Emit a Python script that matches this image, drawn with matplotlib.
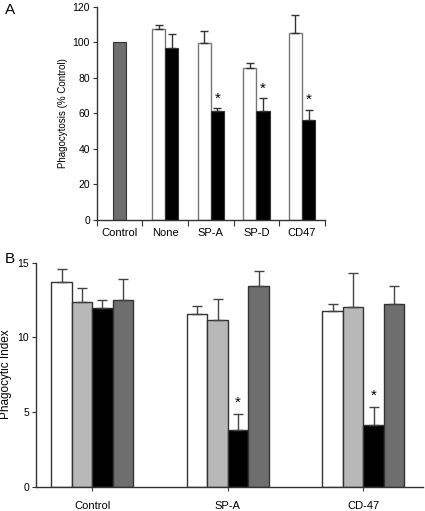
import matplotlib
matplotlib.use('Agg')
import matplotlib.pyplot as plt
import numpy as np

plt.rcParams['font.family'] = ['Liberation Sans', 'DejaVu Sans']

# ── Panel A data ─────────────────────────────────────────
a_categories = ['Control', 'None', 'SP-A', 'SP-D', 'CD47']
a_control = 100.0
a_white = [107.5, 99.4, 85.5, 105.4]
a_white_err = [2.2, 6.8, 2.7, 10.1]
a_black = [96.6, 61.5, 61.5, 56.3]
a_black_err = [7.9, 1.3, 7.0, 5.6]
a_star = [False, True, True, True]

# ── Panel B data ─────────────────────────────────────────
b_groups = ['Control', 'SP-A', 'CD-47']
b_values = [
    [13.73, 11.55, 11.77],   # white
    [12.39, 11.14, 12.02],   # light gray
    [11.95, 3.80, 4.13],     # black
    [12.53, 13.42, 12.22],   # dark gray
]
b_errors = [
    [0.87, 0.57, 0.49],
    [0.94, 1.41, 2.31],
    [0.58, 1.09, 1.21],
    [1.37, 1.01, 1.22],
]
b_star = [False, True, True]

WHITE = '#ffffff'
LIGHT = '#b8b8b8'
BLACK = '#000000'
DARK = '#6e6e6e'
EDGE = '#333333'
AXC = '#333333'

fig = plt.figure(figsize=(4.25, 5.11), dpi=100)


def style_axes(ax):
    ax.spines['top'].set_visible(False)
    ax.spines['right'].set_visible(False)
    for s in ('left', 'bottom'):
        ax.spines[s].set_color(AXC)
        ax.spines[s].set_linewidth(1.0)
    ax.tick_params(axis='y', direction='out', length=3, width=0.8,
                   color=AXC, labelsize=7.5, pad=2)


# ── Panel A ──────────────────────────────────────────────
axA = fig.add_axes([0.228, 0.5695, 0.536, 0.4175])
style_axes(axA)
w = 0.29
x = np.arange(len(a_categories))
axA.bar(x[0], a_control, w, color=DARK, edgecolor=EDGE, linewidth=0.8)
xs = x[1:]
axA.bar(xs - w / 2, a_white, w, color=WHITE, edgecolor='#777777', linewidth=1.0)
axA.bar(xs + w / 2, a_black, w, color=BLACK, edgecolor=EDGE, linewidth=0.8)
axA.errorbar(xs - w / 2, a_white, yerr=[np.zeros(4), a_white_err], fmt='none',
             ecolor=EDGE, elinewidth=1.0, capsize=3, capthick=1.0)
axA.errorbar(xs + w / 2, a_black, yerr=[np.zeros(4), a_black_err], fmt='none',
             ecolor=EDGE, elinewidth=1.0, capsize=3, capthick=1.0)
for xi, v, e, s in zip(xs, a_black, a_black_err, a_star):
    if s:
        axA.annotate('*', (xi + w / 2, v + e), xytext=(0, 2),
                     textcoords='offset points', ha='center', va='bottom',
                     fontsize=11)
axA.set_xlim(-0.5, len(a_categories) - 0.5)
axA.set_ylim(0, 120)
axA.set_yticks(np.arange(0, 121, 20))
axA.set_xticks(np.arange(-0.5, len(a_categories), 1.0))
axA.set_xticklabels([])
axA.set_xticks(x, minor=True)
axA.set_xticklabels(a_categories, minor=True)
axA.tick_params(axis='x', which='major', direction='out', length=4,
                width=0.8, color=AXC)
axA.tick_params(axis='x', which='minor', length=0, labelsize=8, pad=6)
axA.set_ylabel('Phagocytosis (% Control)', fontsize=7, labelpad=3)
fig.text(0.012, 0.995, 'A', fontsize=11, va='top', ha='left')

# ── Panel B ──────────────────────────────────────────────
axB = fig.add_axes([0.0847, 0.0476, 0.9106, 0.4384])
style_axes(axB)
bw = 0.151
gx = np.arange(len(b_groups))
colors = [WHITE, LIGHT, BLACK, DARK]
for i, (vals, errs, c) in enumerate(zip(b_values, b_errors, colors)):
    pos = gx + (i - 1.5) * bw
    axB.bar(pos, vals, bw, color=c, edgecolor=EDGE, linewidth=1.0)
    axB.errorbar(pos, vals, yerr=[np.zeros(len(vals)), errs], fmt='none',
                 ecolor='#444444', elinewidth=1.0, capsize=3.5, capthick=1.0)
for gi, s in enumerate(b_star):
    if s:
        pos = gx[gi] + 0.5 * bw
        axB.annotate('*', (pos, b_values[2][gi] + b_errors[2][gi]),
                     xytext=(0, 3), textcoords='offset points',
                     ha='center', va='bottom', fontsize=11)
axB.set_xlim(-0.415, 2.44)
axB.set_ylim(0, 15)
axB.set_yticks([0, 5, 10, 15])
axB.set_xticks(gx)
axB.set_xticklabels(b_groups)
axB.tick_params(axis='x', direction='out', length=3, width=0.8, color=AXC,
                labelsize=8, pad=7)
axB.tick_params(axis='y', labelsize=7.5)
axB.set_ylabel('Phagocytic Index', fontsize=8.5, labelpad=4)
fig.text(0.012, 0.506, 'B', fontsize=11, va='top', ha='left')

fig.savefig('out.png', dpi=100)
